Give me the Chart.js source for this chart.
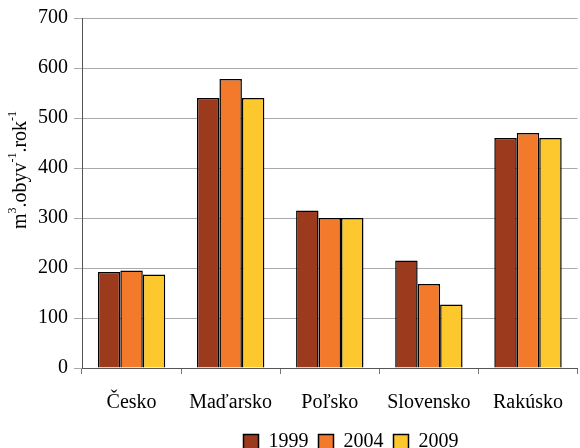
<!DOCTYPE html>
<html>
<head>
<meta charset="utf-8">
<script src="https://cdn.jsdelivr.net/npm/chart.js@4"></script>
<style>
  html, body { margin: 0; padding: 0; background: #fff; }
</style>
</head>
<body>
<canvas id="chart" width="580" height="448"></canvas>
<script>
var krajiny = ["Česko", "Maďarsko", "Poľsko", "Slovensko", "Rakúsko"];
var roky = ["1999", "2004", "2009"];
var hodnoty1999 = [192, 540, 315, 215, 460];
var hodnoty2004 = [195, 578, 300, 168, 470];
var hodnoty2009 = [187, 540, 300, 127, 460];
var yTicks = [0, 100, 200, 300, 400, 500, 600, 700];

var farby = ["#9b3a1d", "#f47a2b", "#fdc82e"];
var serif = "'Liberation Serif', 'DejaVu Serif', serif";

// titulok osi y s horným indexom
var yTitulok = {
  id: "yTitulok",
  afterDraw: function (chart) {
    var ctx = chart.ctx;
    var casti = [
      ["m", false], ["3", true], [".obyv", false], ["-1", true], [".rok", false], ["-1", true]
    ];
    ctx.save();
    ctx.translate(26, 170);
    ctx.rotate(-Math.PI / 2);
    ctx.fillStyle = "#000";
    ctx.textBaseline = "alphabetic";
    var sirka = 0;
    casti.forEach(function (c) {
      ctx.font = (c[1] ? "12px " : "20px ") + serif;
      sirka += ctx.measureText(c[0]).width;
    });
    var x = -sirka / 2;
    casti.forEach(function (c) {
      ctx.font = (c[1] ? "12px " : "20px ") + serif;
      ctx.fillText(c[0], x, c[1] ? -10 : 0);
      x += ctx.measureText(c[0]).width;
    });
    ctx.restore();
  }
};

// legenda posunutá ako v predlohe
var posunLegendy = {
  id: "posunLegendy",
  beforeDraw: function (chart) {
    var lg = chart.legend;
    if (!lg) return;
    var dx = 351 - (lg.left + lg.right) / 2;
    lg.left += dx;
    lg.right += dx;
    lg.top = 422;
  }
};

var datasets = [hodnoty1999, hodnoty2004, hodnoty2009].map(function (d, i) {
  return {
    label: roky[i],
    data: d,
    backgroundColor: farby[i],
    borderColor: "#000",
    borderWidth: 1.5,
    borderSkipped: "bottom",
    categoryPercentage: 0.68,
    barPercentage: 1.0
  };
});

new Chart(document.getElementById("chart"), {
  type: "bar",
  data: { labels: krajiny, datasets: datasets },
  options: {
    responsive: false,
    animation: false,
    layout: { padding: { left: 32, top: 9, right: 0, bottom: -18 } },
    plugins: {
      tooltip: { enabled: false },
      legend: {
        position: "bottom",
        maxHeight: 34,
        labels: {
          color: "#000",
          font: { family: serif, size: 20 },
          boxWidth: 15,
          boxHeight: 15,
          padding: 10,
          generateLabels: function (chart) {
            return chart.data.datasets.map(function (ds, i) {
              return {
                text: ds.label,
                fillStyle: ds.backgroundColor,
                strokeStyle: "#000",
                lineWidth: 1.5,
                datasetIndex: i
              };
            });
          }
        }
      }
    },
    scales: {
      x: {
        grid: { drawOnChartArea: false, drawTicks: true, tickLength: 6, color: "#777", offset: true },
        border: { color: "#555", width: 1 },
        ticks: { color: "#000", font: { family: serif, size: 20 }, padding: 17 }
      },
      y: {
        min: 0,
        max: 700,
        afterBuildTicks: function (axis) {
          axis.ticks = yTicks.map(function (v) { return { value: v }; });
        },
        grid: { color: "#aaa", tickLength: 8, lineWidth: 1 },
        border: { color: "#555", width: 1 },
        ticks: { color: "#000", font: { family: serif, size: 20 }, padding: 6 }
      }
    }
  },
  plugins: [yTitulok, posunLegendy]
});
</script>
</body>
</html>
